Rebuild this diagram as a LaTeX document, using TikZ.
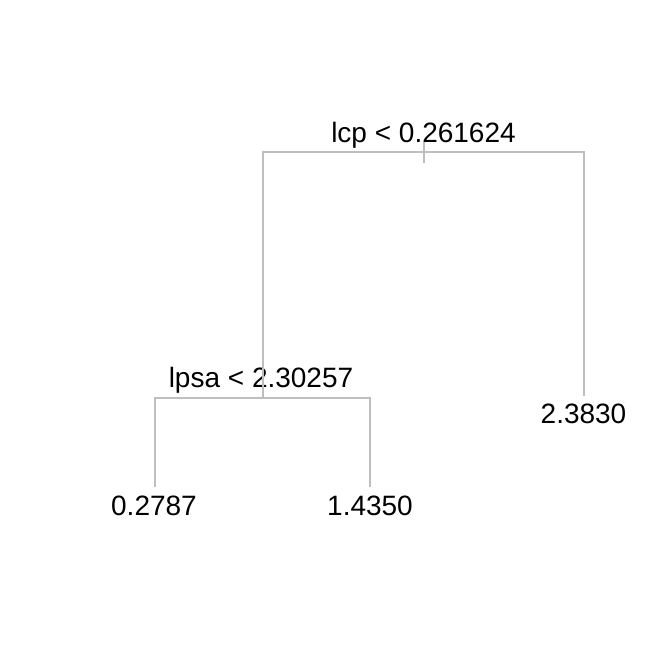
\documentclass[tikz,border=0pt]{standalone}
\usepackage{fontspec}
\setmainfont{Liberation Sans}
\begin{document}
\begin{tikzpicture}[x=1bp,y=-1bp,
  edge/.style={draw={rgb,255:red,190;green,190;blue,190},line width=2bp},
  lbl/.style={inner sep=0pt,anchor=base,font=\fontsize{28bp}{32bp}\selectfont}]
\useasboundingbox[fill=white] (0,0) rectangle (672,672);
% split points
\coordinate (rtop) at (423.5,141.7);
\coordinate (rmid) at (423.5,163.3);
\coordinate (rL) at (262.5,151.7);
\coordinate (rR) at (583.5,151.7);
\coordinate (s2) at (262.5,397.5);
\coordinate (s2L) at (155,397.5);
\coordinate (s2R) at (369.5,397.5);
\coordinate (leafA) at (155,487);
\coordinate (leafB) at (369.5,487);
\coordinate (leafC) at (583.5,395.5);
% labels
\node[lbl] (root) at (423.5,142) {lcp < 0.261624};
\node[lbl] (split2) at (261,387) {lpsa < 2.30257};
\node[lbl] (la) at (154,515) {0.2787};
\node[lbl] (lb) at (370,515) {1.4350};
\node[lbl] (lc) at (583.5,423) {2.3830};
% edges
\draw[edge] (rtop) -- (rmid);
\draw[edge] (leafC) -- (rR) -- (rL) -- (s2);
\draw[edge] (leafA) -- (s2L) -- (s2R) -- (leafB);
\end{tikzpicture}
\end{document}
